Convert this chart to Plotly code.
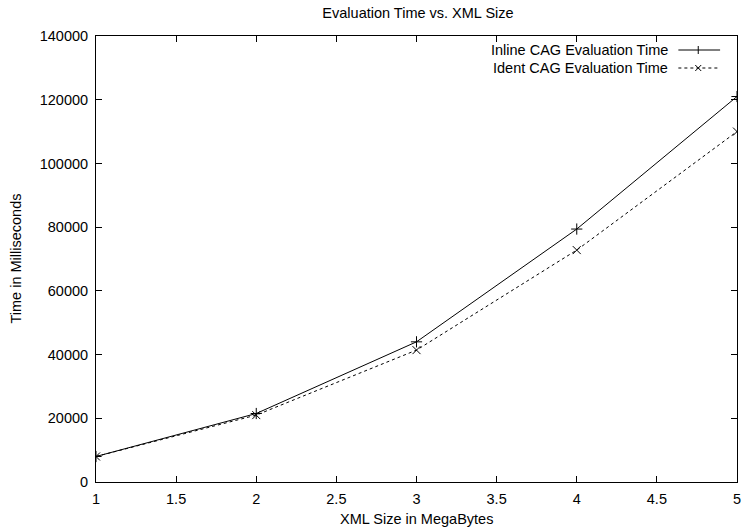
import plotly.graph_objects as go

# XML document sizes (MB) and measured evaluation times (ms)
xml_size_mb = [1, 2, 3, 4, 5]
inline_cag_ms = [8000, 21500, 44000, 79400, 121000]
ident_cag_ms = [8000, 21000, 41400, 72800, 110000]

x_tick_vals = [1, 1.5, 2, 2.5, 3, 3.5, 4, 4.5, 5]
y_tick_vals = [0, 20000, 40000, 60000, 80000, 100000, 120000, 140000]

series_names = ["Inline CAG Evaluation Time", "Ident CAG Evaluation Time"]

FONT = "Liberation Sans, Arial, Helvetica, sans-serif"
FS = 14.5

fig = go.Figure()
fig.add_trace(go.Scatter(
    x=xml_size_mb, y=inline_cag_ms, mode="lines+markers", name=series_names[0],
    line=dict(color="black", width=1),
    marker=dict(symbol="cross-thin", size=8, line=dict(color="black", width=1)),
))
fig.add_trace(go.Scatter(
    x=xml_size_mb, y=ident_cag_ms, mode="lines+markers", name=series_names[1],
    line=dict(color="black", width=1, dash="3px,3px"),
    marker=dict(symbol="x-thin", size=8, line=dict(color="black", width=1)),
))

W, H = 742, 530
L, R, T, B = 96, 1, 36, 48
pw, ph = W - L - R, H - T - B

def px_x(p):
    return (p - L) / pw

def px_y(p):
    return 1 - (p - T) / ph

def key_line(x0, y0, x1, y1, dash="solid"):
    fig.add_shape(type="line", xref="paper", yref="paper",
                  x0=px_x(x0), x1=px_x(x1), y0=px_y(y0), y1=px_y(y1),
                  line=dict(color="black", width=1, dash=dash))

# Key in the upper right: right-aligned text with a line sample to its right
key_rows = [(50, "solid"), (68, "3px,3px")]
for (ypix, dash), name in zip(key_rows, series_names):
    fig.add_annotation(x=px_x(673), y=px_y(ypix), xref="paper", yref="paper",
                       text=name, showarrow=False, xanchor="right", yanchor="middle",
                       borderpad=0,
                       font=dict(family=FONT, size=FS, color="black"))
    key_line(682, ypix, 724, ypix, dash)

# sample glyphs: plus on the first row, cross on the second
key_line(702, 46, 702, 54)
key_line(699, 65, 705, 71)
key_line(699, 71, 705, 65)

axis_common = dict(
    showline=True, linecolor="black", linewidth=1, mirror="ticks",
    ticks="inside", ticklen=6, tickcolor="black", tickwidth=1,
    showgrid=False, zeroline=False, ticklabeloverflow="allow",
    tickfont=dict(family=FONT, size=FS, color="black"),
)

fig.update_layout(
    width=W, height=H,
    margin=dict(l=L, r=R, t=T, b=B),
    paper_bgcolor="white", plot_bgcolor="white",
    showlegend=False,
    font=dict(family=FONT, size=FS, color="black"),
    title=dict(text="Evaluation Time vs. XML Size", x=418 / W,
               xanchor="center", y=1 - 13 / H, yanchor="middle",
               font=dict(family=FONT, size=FS, color="black")),
    xaxis=dict(range=[1, 5], tickvals=x_tick_vals, ticklabelstandoff=4, **axis_common),
    yaxis=dict(range=[0, 140000], tickvals=y_tick_vals, tickformat="d",
               ticklabelstandoff=4, **axis_common),
)

fig.add_annotation(x=px_x(418), y=px_y(519), xref="paper", yref="paper",
                   text="XML Size in MegaBytes", showarrow=False,
                   xanchor="center", yanchor="middle",
                   font=dict(family=FONT, size=FS, color="black"))
fig.add_annotation(x=px_x(15), y=px_y(259), xref="paper", yref="paper",
                   text="Time in Milliseconds", showarrow=False, textangle=-90,
                   xanchor="center", yanchor="middle",
                   font=dict(family=FONT, size=FS, color="black"))

fig.write_html("out.html")
